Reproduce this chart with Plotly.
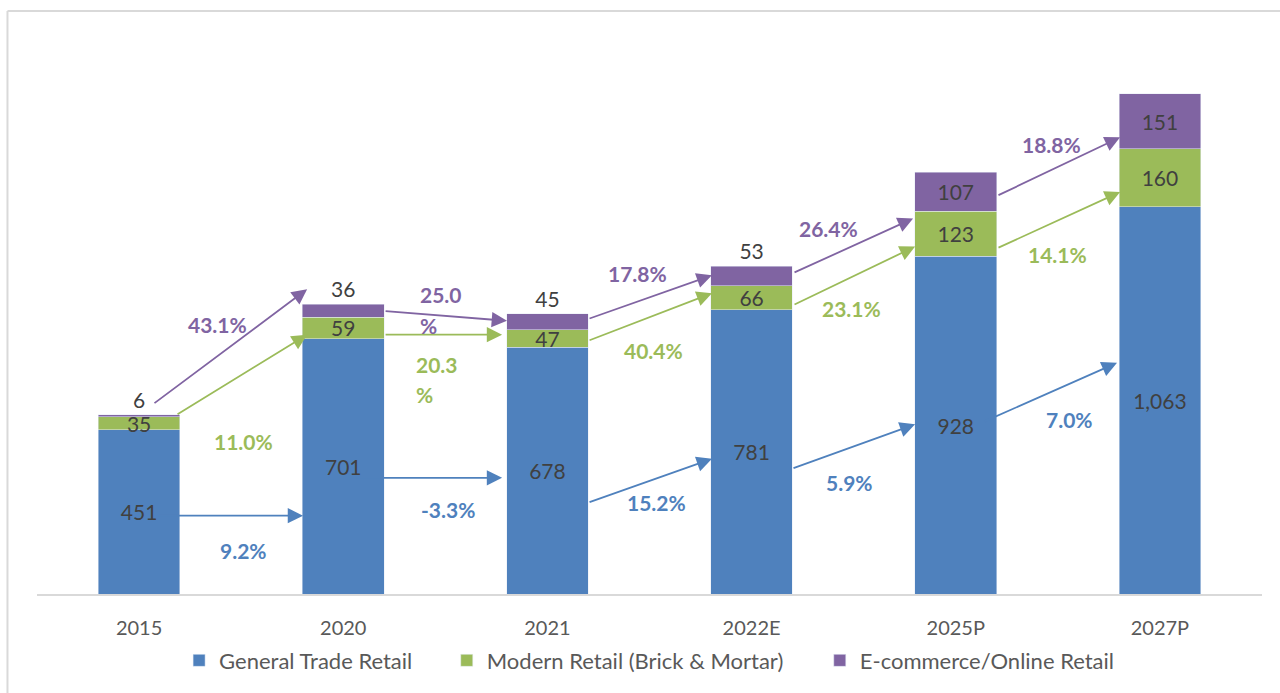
import plotly.graph_objects as go

# ---------------- data ----------------
categories = ["2015", "2020", "2021", "2022E", "2025P", "2027P"]
general_trade = [451, 701, 678, 781, 928, 1063]
modern_retail = [35, 59, 47, 66, 123, 160]
ecommerce = [6, 36, 45, 53, 107, 151]
series_names = ["General Trade Retail", "Modern Retail (Brick & Mortar)", "E-commerce/Online Retail"]

general_growth = ["9.2%", "-3.3%", "15.2%", "5.9%", "7.0%"]
modern_growth = ["11.0%", "20.3%", "40.4%", "23.1%", "14.1%"]
ecom_growth = ["43.1%", "25.0%", "17.8%", "26.4%", "18.8%"]

# ---------------- styles ----------------
BLUE = "#4F81BD"
GREEN = "#9BBB59"
PURPLE = "#8064A2"
TXT = "#404040"
FONT = "Lato"

# hand-drawn arrow layout (tail x, tail y, head x, head y) in axis units
ecom_arrows = [(0.068, 521, 0.823, 837), (1.200, 777, 1.802, 750), (2.199, 755, 2.806, 875),
               (3.203, 881, 3.791, 1031), (4.202, 1093, 4.805, 1254)]
modern_arrows = [(0.181, 491, 0.823, 712), (1.200, 712, 1.778, 712), (2.199, 695, 2.806, 826),
                 (3.203, 793, 3.801, 954), (4.202, 949, 4.805, 1104)]
general_arrows = [(0.088, 215, 0.803, 215), (1.058, 319, 1.778, 319), (2.199, 251, 2.806, 371),
                  (3.198, 344, 3.801, 466), (4.134, 472, 4.790, 635)]
# growth label positions (x, y) ; two-line labels give (x, y_line1, y_line2)
ecom_label_pos = [(0.382, 739), (1.367, 823, 736), (2.439, 881), (3.375, 1003), (4.467, 1235)]
modern_label_pos = [(0.509, 420), (1.347, 630, 548), (2.518, 668), (3.487, 785), (4.496, 932)]
general_label_pos = [(0.509, 120), (1.513, 232), (2.532, 251), (3.482, 305), (4.555, 480)]

fig = go.Figure()

def fmt(v):
    return f"{v:,}"

VAL_FONT = dict(color=TXT, size=21, family=FONT)

fig.add_trace(go.Bar(
    x=categories, y=general_trade, name=series_names[0], marker_color=BLUE,
    text=[fmt(v) for v in general_trade], textposition="inside", insidetextanchor="middle",
    constraintext="none", textangle=0, textfont=VAL_FONT, legend="legend",
))
fig.add_trace(go.Bar(
    x=categories, y=modern_retail, name=series_names[1], marker_color=GREEN,
    text=[fmt(v) for v in modern_retail], textposition="inside", insidetextanchor="middle",
    constraintext="none", textangle=0, textfont=VAL_FONT, legend="legend2",
))
fig.add_trace(go.Bar(
    x=categories, y=ecommerce, name=series_names[2], marker_color=PURPLE,
    text=[fmt(v) for v in ecommerce],
    textposition=["outside", "outside", "outside", "outside", "inside", "inside"],
    insidetextanchor="middle", constraintext="none", textangle=0, cliponaxis=False,
    textfont=VAL_FONT, legend="legend3",
))

annotations = []

def add_arrows(arrows, color):
    for (tx, ty, hx, hy) in arrows:
        annotations.append(dict(
            x=hx, y=hy, ax=tx, ay=ty, xref="x", yref="y", axref="x", ayref="y",
            text="", showarrow=True, arrowhead=2, arrowsize=1.7, arrowwidth=1.8,
            arrowcolor=color, standoff=0, startstandoff=0,
        ))

add_arrows(ecom_arrows, PURPLE)
add_arrows(modern_arrows, GREEN)
add_arrows(general_arrows, BLUE)

def add_labels(labels, positions, color):
    for lab, pos in zip(labels, positions):
        f = dict(color=color, size=21, family=FONT, weight="bold")
        if len(pos) == 3:
            num = lab.rstrip("%")
            annotations.append(dict(x=pos[0], y=pos[1], xref="x", yref="y", text=num,
                                    showarrow=False, xanchor="left", yanchor="middle", font=f))
            annotations.append(dict(x=pos[0], y=pos[2], xref="x", yref="y", text="%",
                                    showarrow=False, xanchor="left", yanchor="middle", font=f))
        else:
            annotations.append(dict(x=pos[0], y=pos[1], xref="x", yref="y", text=lab,
                                    showarrow=False, xanchor="center", yanchor="middle", font=f))

add_labels(ecom_growth, ecom_label_pos, PURPLE)
add_labels(modern_growth, modern_label_pos, GREEN)
add_labels(general_growth, general_label_pos, BLUE)

legend_common = dict(orientation="h", yanchor="middle", y=-0.118, xanchor="left",
                     font=dict(size=22, color="#595959", family=FONT),
                     bgcolor="rgba(0,0,0,0)", borderwidth=0, visible=True)

fig.update_layout(
    barmode="stack",
    bargap=0.6,
    showlegend=True,
    width=1280, height=693,
    margin=dict(l=37, r=18, t=30, b=95),
    paper_bgcolor="white", plot_bgcolor="white",
    font=dict(family=FONT, color="#595959"),
    annotations=annotations,
    legend=dict(x=0.1160, **legend_common),
    legend2=dict(x=0.3345, **legend_common),
    legend3=dict(x=0.6390, **legend_common),
    xaxis=dict(range=[-0.5, 5.5], showgrid=False, showline=True, linecolor="#D9D9D9",
               linewidth=2, ticks="", tickfont=dict(size=20, color="#595959", family=FONT),
               ticklabelstandoff=15),
    yaxis=dict(range=[0, 1548.5], visible=False, showgrid=False),
    shapes=[
        dict(type="line", xref="paper", yref="paper", x0=-0.0241, x1=-0.0241, y0=-0.2,
             y1=1.0335, line=dict(color="#D9D9D9", width=2)),
        dict(type="line", xref="paper", yref="paper", x0=-0.0241, x1=1.05, y0=1.0335,
             y1=1.0335, line=dict(color="#D9D9D9", width=2)),
    ],
)

fig.write_html("out.html", config={"displayModeBar": False},
               post_script="document.body.style.margin='0';document.body.style.overflow='hidden';")
